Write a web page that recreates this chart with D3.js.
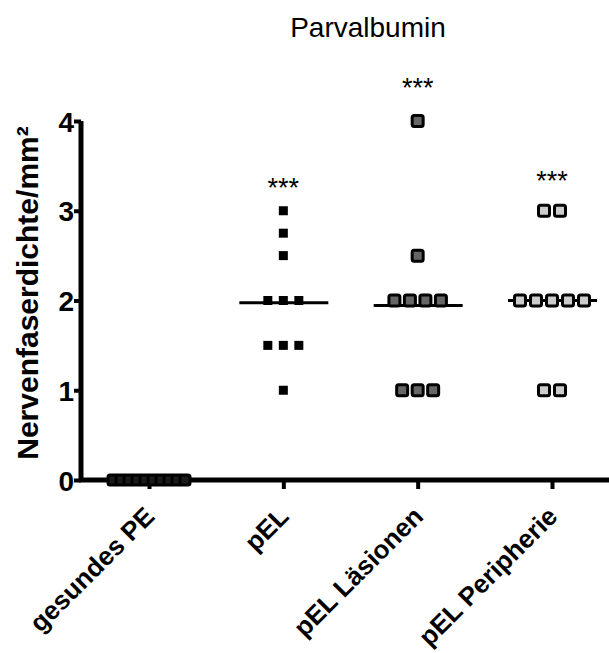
<!DOCTYPE html>
<html>
<head>
<meta charset="utf-8">
<script src="https://cdn.jsdelivr.net/npm/d3@7"></script>
<style>
  body { margin: 0; background: #fff; }
  text { font-family: "Liberation Sans", Arial, sans-serif; }
</style>
</head>
<body>
<svg width="609" height="653"></svg>
<script>
// groups and the values
const groups = ["gesundes PE", "pEL", "pEL Läsionen", "pEL Peripherie"];
const gesundes = [0, 0, 0, 0, 0, 0, 0, 0, 0, 0];
const pel = [3, 2.75, 2.5, 2, 2, 2, 1.5, 1.5, 1.5, 1];
const laesionen = [4, 2.5, 2, 2, 2, 2, 1, 1, 1];
const peripherie = [3, 3, 2, 2, 2, 2, 2, 1, 1];
const seriesValues = [gesundes, pel, laesionen, peripherie];
const stars = ["", "***", "***", "***"];
const starLevel = [null, 3.32, 4.43, 3.40];
const yTicks = [0, 1, 2, 3, 4];

const svg = d3.select("svg");

const x = d3.scalePoint().domain(groups).range([149, 552]);
const y = d3.scaleLinear().domain([0, 4]).range([480, 121]);

// marker look per group
const fills = ["#1a1a1a", "#000", "#666", "#ccc"];
const sizes = [10, 9, 11, 11];
const strokeW = [3, 0, 3, 3];
const spacing = [8, 15.5, 15.5, 16];

// axes
const yAxis = d3.axisLeft(y).tickValues(yTicks).tickSize(7).tickFormat(d3.format("d"));
const gy = svg.append("g").attr("transform", "translate(81,0)").call(yAxis);
gy.select(".domain").attr("stroke", "#000").attr("stroke-width", 5).attr("d", "M0,121V482");
gy.selectAll(".tick line").attr("stroke", "#000").attr("stroke-width", 4);
gy.selectAll(".tick text")
  .attr("x", -7).attr("dy", "0.36em")
  .attr("font-size", 28).attr("font-weight", "bold").attr("fill", "#000");

const xAxis = d3.axisBottom(x).tickSize(9).tickFormat("");
const gx = svg.append("g").attr("transform", "translate(0,480)").call(xAxis);
gx.select(".domain").attr("stroke", "#000").attr("stroke-width", 5).attr("d", "M79,0H609");
gx.selectAll(".tick line").attr("stroke", "#000").attr("stroke-width", 4);

// rotated category labels
svg.append("g").selectAll("text")
  .data(groups)
  .join("text")
  .attr("text-anchor", "end")
  .attr("transform", d => `translate(${x(d) + 7},${518}) rotate(-45)`)
  .attr("font-size", 26)
  .attr("font-weight", "bold")
  .attr("fill", "#000")
  .text(d => d);

// points: stack equal values side by side
const points = [];
seriesValues.forEach((vals, gi) => {
  const counts = d3.rollup(vals, v => v.length, v => v);
  const seen = new Map();
  vals.forEach(v => {
    const n = counts.get(v);
    const i = seen.get(v) || 0;
    seen.set(v, i + 1);
    points.push({ g: gi, v: v, off: (i - (n - 1) / 2) * spacing[gi] });
  });
});

// mean lines
seriesValues.forEach((vals, gi) => {
  const m = d3.mean(vals);
  svg.append("line")
    .attr("x1", x(groups[gi]) - 44).attr("x2", x(groups[gi]) + 45)
    .attr("y1", y(m)).attr("y2", y(m))
    .attr("stroke", "#000").attr("stroke-width", 3);
});

svg.append("g").selectAll("rect")
  .data(points)
  .join("rect")
  .attr("x", d => x(groups[d.g]) + d.off - sizes[d.g] / 2)
  .attr("y", d => y(d.v) - sizes[d.g] / 2)
  .attr("width", d => sizes[d.g])
  .attr("height", d => sizes[d.g])
  .attr("rx", d => strokeW[d.g] ? 2 : 0)
  .attr("fill", d => fills[d.g])
  .attr("stroke", "#000")
  .attr("stroke-width", d => strokeW[d.g]);

// significance stars
svg.append("g").selectAll("text")
  .data(groups.filter((g, i) => stars[i]))
  .join("text")
  .attr("x", d => x(d))
  .attr("y", d => y(starLevel[groups.indexOf(d)]) + 15)
  .attr("text-anchor", "middle")
  .attr("font-size", 27)
  .attr("fill", "#000")
  .text(d => stars[groups.indexOf(d)]);

// y label
svg.append("text")
  .attr("transform", "translate(38,293) rotate(-90)")
  .attr("text-anchor", "middle")
  .attr("font-size", 30)
  .attr("font-weight", "bold")
  .attr("fill", "#000")
  .text("Nervenfaserdichte/mm²");

// title
svg.append("text")
  .attr("x", 368).attr("y", 37)
  .attr("text-anchor", "middle")
  .attr("font-size", 28)
  .attr("fill", "#000")
  .text("Parvalbumin");
</script>
</body>
</html>
